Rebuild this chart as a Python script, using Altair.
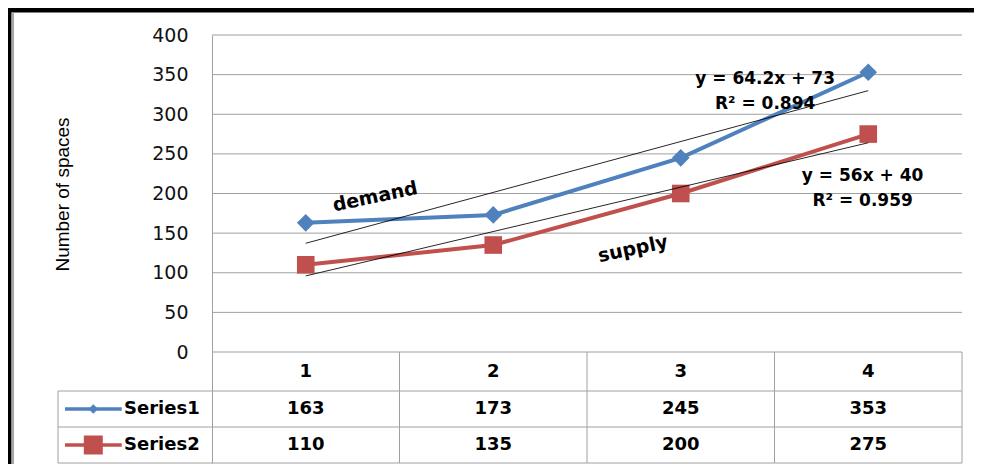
import altair as alt
import pandas as pd

# ---------------- data ----------------
categories = [1, 2, 3, 4]
series_names = ["Series1", "Series2"]
series1 = [163, 173, 245, 353]
series2 = [110, 135, 200, 275]
y_ticks = [0, 50, 100, 150, 200, 250, 300, 350, 400]
colors = ["#4F81BD", "#C0504D"]
shapes = ["diamond", "square"]

eq_labels = ["y = 64.2x + 73", "R\u00b2 = 0.894", "y = 56x + 40", "R\u00b2 = 0.959"]
eq_x = [3.45, 3.45, 3.97, 3.97]
eq_y = [344, 313, 222, 190]
curve_labels = ["demand", "supply"]
curve_x = [1.37, 2.745]
curve_y = [196, 130]

# ---------------- layout (pixels) ----------------
PLOT_H = 317
HEAD_H = 39
ROW_H = 36
CAT_W = 187.5
LEG_W = 154
W = LEG_W + 4 * CAT_W
H = PLOT_H + HEAD_H + 2 * ROW_H
K = 400 / PLOT_H
X_MIN = 0.5 - LEG_W / CAT_W
X_MAX = 4.5
Y_MIN = -(H - PLOT_H) * K
b1 = -HEAD_H * K
b2 = -(HEAD_H + ROW_H) * K
b3 = Y_MIN
head_c = -HEAD_H / 2 * K
row_c = [-(HEAD_H + ROW_H / 2) * K, -(HEAD_H + ROW_H * 1.5) * K]

GRID = "#a0a0a0"
FONT = "DejaVu Sans"

XS = alt.Scale(domain=[X_MIN, X_MAX], nice=False, zero=False)
YS = alt.Scale(domain=[Y_MIN, 400], nice=False, zero=False)
YAX = alt.Axis(
    values=y_ticks, title="Number of spaces", offset=-LEG_W, grid=False,
    ticks=False, domain=True, domainColor=GRID, domainWidth=1,
    labelPadding=24, labelFont=FONT, labelFontSize=19, labelColor="#111",
    titleFont="Liberation Sans", titleFontSize=19, titleFontWeight="normal",
    titleColor="black", titleAngle=270, titleX=-144, titleY=159,
    titleAlign="center", titleBaseline="alphabetic",
)


def xq(f):
    return alt.X(f, type="quantitative", scale=XS, axis=None)


def yq(f):
    return alt.Y(f, type="quantitative", scale=YS, axis=YAX)


color_enc = alt.Color("series:N", scale=alt.Scale(domain=series_names, range=colors), legend=None)

# long data
rows = []
for name, vals in zip(series_names, [series1, series2]):
    for c, v in zip(categories, vals):
        rows.append({"series": name, "x": c, "y": v})
df = pd.DataFrame(rows)

# gridlines
grid_df = pd.DataFrame({"y": y_ticks, "x": [0.5] * len(y_ticks), "x2": [X_MAX] * len(y_ticks)})
grid = alt.Chart(grid_df).mark_rule(color=GRID, strokeWidth=1).encode(
    x=xq("x"), x2="x2", y=yq("y")
)

# table lines
tl = []
for b in [b1, b2, b3]:
    tl.append({"x": X_MIN, "x2": X_MAX, "y": b, "y2": b})
tl.append({"x": X_MIN, "x2": X_MIN, "y": b1, "y2": b3})
for xv in [1.5, 2.5, 3.5, 4.5]:
    tl.append({"x": xv, "x2": xv, "y": 0, "y2": b3})
table_lines = alt.Chart(pd.DataFrame(tl)).mark_rule(color=GRID, strokeWidth=1).encode(
    x=xq("x"), x2="x2", y=yq("y"), y2="y2"
)

# series lines
lines = alt.Chart(df).mark_line(strokeWidth=4).encode(
    x=xq("x"), y=yq("y"), color=color_enc, detail="series:N"
)

# markers
marker_layers = []
for name, col, shp, sz in zip(series_names, colors, shapes, [310, 310]):
    marker_layers.append(
        alt.Chart(df[df.series == name]).mark_point(
            filled=True, shape=shp, size=sz, color=col, opacity=1
        ).encode(x=xq("x"), y=yq("y"))
    )

# trendlines
trend = alt.Chart(df).transform_regression(
    "x", "y", groupby=["series"], extent=[1, 4]
).mark_line(color="black", strokeWidth=1, opacity=0.85).encode(
    x=xq("x"), y=yq("y"), detail="series:N"
)

# equations
eq_df = pd.DataFrame({"t": eq_labels, "x": eq_x, "y": eq_y})
eqs = alt.Chart(eq_df).mark_text(
    font=FONT, fontSize=17, fontWeight="bold", color="black", align="center", baseline="middle"
).encode(x=xq("x"), y=yq("y"), text="t:N")

cl_df = pd.DataFrame({"t": curve_labels, "x": curve_x, "y": curve_y})
clabels = alt.Chart(cl_df).mark_text(
    font=FONT, fontSize=19, fontWeight="bold", color="black", align="center",
    baseline="middle", angle=348
).encode(x=xq("x"), y=yq("y"), text="t:N")

# table header
head_df = pd.DataFrame({"x": categories, "y": [head_c] * 4, "t": [str(c) for c in categories]})
header = alt.Chart(head_df).mark_text(
    font=FONT, fontSize=18, fontWeight="bold", color="black", align="center", baseline="middle"
).encode(x=xq("x"), y=yq("y"), text="t:N")

# table values
cell_rows = []
for i, (name, vals) in enumerate(zip(series_names, [series1, series2])):
    for c, v in zip(categories, vals):
        cell_rows.append({"x": c, "y": row_c[i], "t": str(v)})
cells = alt.Chart(pd.DataFrame(cell_rows)).mark_text(
    font=FONT, fontSize=18, fontWeight="bold", color="black", align="center", baseline="middle"
).encode(x=xq("x"), y=yq("y"), text="t:N")

# legend keys inside the table
leg_df = pd.DataFrame({
    "series": series_names,
    "y": row_c,
    "x": [X_MIN + 7 / CAT_W] * 2,
    "x2": [X_MIN + 63.7 / CAT_W] * 2,
    "xm": [X_MIN + 35.3 / CAT_W] * 2,
    "xt": [X_MIN + 66 / CAT_W] * 2,
})
leg_lines = alt.Chart(leg_df).mark_rule(strokeWidth=3.5).encode(
    x=xq("x"), x2="x2", y=yq("y"), color=color_enc
)
leg_marks = []
for i, (name, col, shp, sz) in enumerate(zip(series_names, colors, shapes, [90, 360])):
    leg_marks.append(
        alt.Chart(leg_df[leg_df.series == name]).mark_point(
            filled=True, shape=shp, size=sz, color=col, opacity=1
        ).encode(x=xq("xm"), y=yq("y"))
    )
leg_text = alt.Chart(leg_df).mark_text(
    font=FONT, fontSize=18, fontWeight="bold", color="black", align="left", baseline="middle"
).encode(x=xq("xt"), y=yq("y"), text="series:N")

# outer frame (decoration)
frame_df = pd.DataFrame({"a": [0]})
frame = alt.Chart(frame_df).mark_rect(fillOpacity=0, stroke="black", strokeWidth=4.5).encode(
    x=alt.value(-48.7), x2=alt.value(W + 300), y=alt.value(-24.7), y2=alt.value(H + 300)
)
frame_shadow = alt.Chart(frame_df).mark_rule(color="#a8a8a8", strokeWidth=2.5).encode(
    x=alt.value(-45.2), y=alt.value(-22.4), y2=alt.value(H + 300)
)

chart = alt.layer(
    grid, table_lines, lines, *marker_layers, trend, eqs, clabels,
    header, cells, leg_lines, *leg_marks, leg_text, frame, frame_shadow
).properties(
    width=W, height=H,
    background="white",
    autosize=alt.AutoSizeParams(type="none"),
    padding={"left": 50, "top": 27, "right": 12, "bottom": 1},
).configure_view(stroke=None)

chart.save("out.html", embed_options={"renderer": "svg", "actions": False})
